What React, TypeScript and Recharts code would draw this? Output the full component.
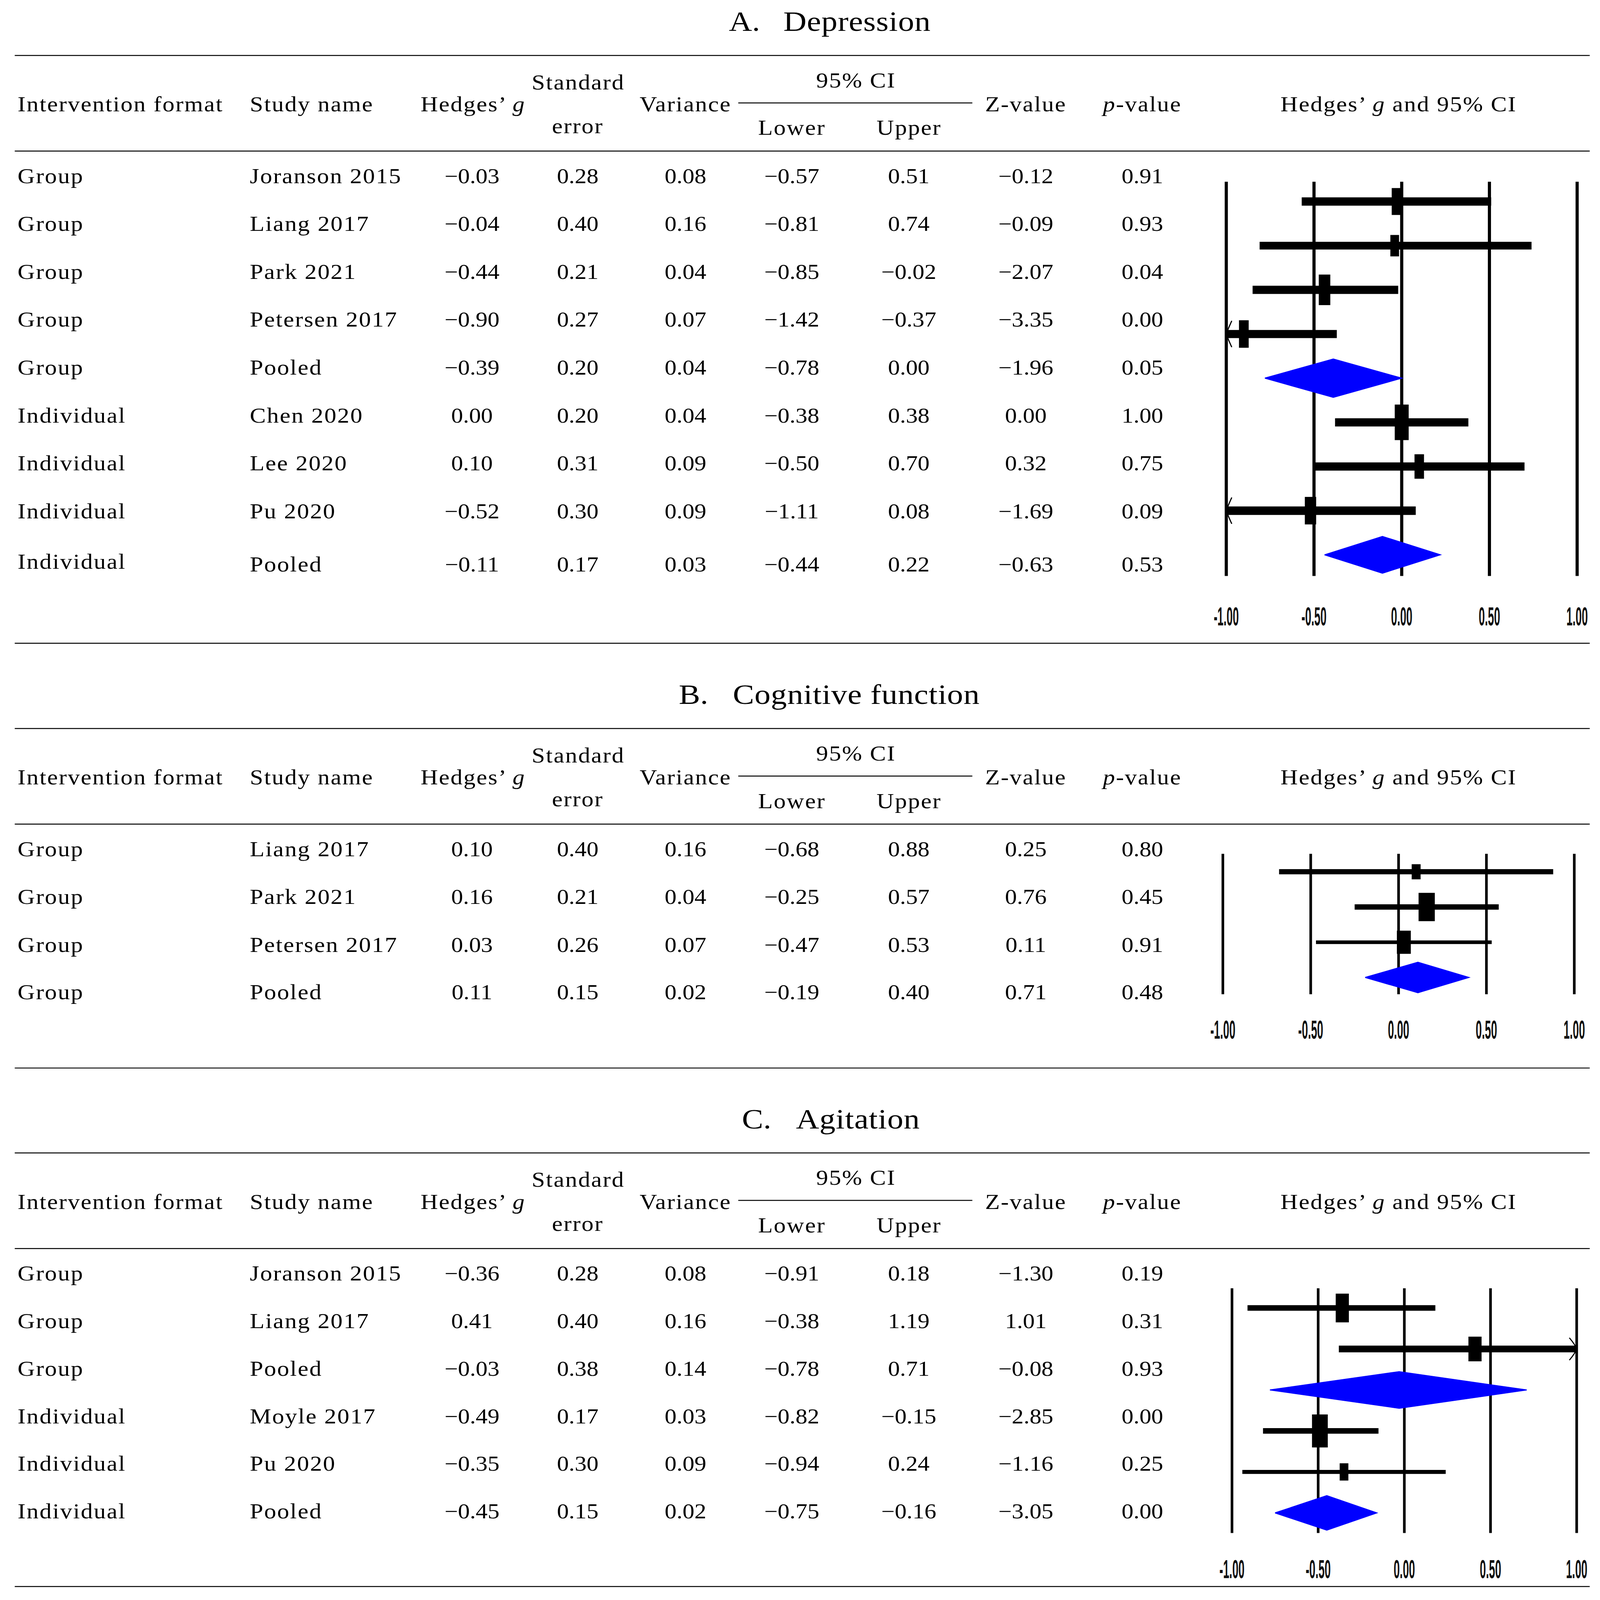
import React from 'react';
import {
  ScatterChart,
  Scatter,
  XAxis,
  YAxis,
  CartesianGrid,
  ReferenceLine,
  ReferenceDot,
} from 'recharts';

// layout is drawn on a 1400x1576 sheet, then stretched to fill the window
const SHEET_W = 1400;
const SHEET_H = 1576;
const viewW = typeof window !== 'undefined' && window.innerWidth ? window.innerWidth : 4443;
const viewH = typeof window !== 'undefined' && window.innerHeight ? window.innerHeight : 5001;
const SX = viewW / SHEET_W;
const SY = viewH / SHEET_H;

// A. Depression
const formatA = ['Group', 'Group', 'Group', 'Group', 'Group', 'Individual', 'Individual', 'Individual', 'Individual'];
const studyA = ['Joranson 2015', 'Liang 2017', 'Park 2021', 'Petersen 2017', 'Pooled', 'Chen 2020', 'Lee 2020', 'Pu 2020', 'Pooled'];
const gA = [-0.03, -0.04, -0.44, -0.9, -0.39, 0.0, 0.1, -0.52, -0.11];
const seA = [0.28, 0.4, 0.21, 0.27, 0.2, 0.2, 0.31, 0.3, 0.17];
const varA = [0.08, 0.16, 0.04, 0.07, 0.04, 0.04, 0.09, 0.09, 0.03];
const lowerA = [-0.57, -0.81, -0.85, -1.42, -0.78, -0.38, -0.5, -1.11, -0.44];
const upperA = [0.51, 0.74, -0.02, -0.37, 0.0, 0.38, 0.7, 0.08, 0.22];
const zA = [-0.12, -0.09, -2.07, -3.35, -1.96, 0.0, 0.32, -1.69, -0.63];
const pA = [0.91, 0.93, 0.04, 0.0, 0.05, 1.0, 0.75, 0.09, 0.53];

// B. Cognitive function
const formatB = ['Group', 'Group', 'Group', 'Group'];
const studyB = ['Liang 2017', 'Park 2021', 'Petersen 2017', 'Pooled'];
const gB = [0.1, 0.16, 0.03, 0.11];
const seB = [0.4, 0.21, 0.26, 0.15];
const varB = [0.16, 0.04, 0.07, 0.02];
const lowerB = [-0.68, -0.25, -0.47, -0.19];
const upperB = [0.88, 0.57, 0.53, 0.4];
const zB = [0.25, 0.76, 0.11, 0.71];
const pB = [0.8, 0.45, 0.91, 0.48];

// C. Agitation
const formatC = ['Group', 'Group', 'Group', 'Individual', 'Individual', 'Individual'];
const studyC = ['Joranson 2015', 'Liang 2017', 'Pooled', 'Moyle 2017', 'Pu 2020', 'Pooled'];
const gC = [-0.36, 0.41, -0.03, -0.49, -0.35, -0.45];
const seC = [0.28, 0.4, 0.38, 0.17, 0.3, 0.15];
const varC = [0.08, 0.16, 0.14, 0.03, 0.09, 0.02];
const lowerC = [-0.91, -0.38, -0.78, -0.82, -0.94, -0.75];
const upperC = [0.18, 1.19, 0.71, -0.15, 0.24, -0.16];
const zC = [-1.3, 1.01, -0.08, -2.85, -1.16, -3.05];
const pC = [0.19, 0.31, 0.93, 0.0, 0.25, 0.0];

const axisTicks = [-1, -0.5, 0, 0.5, 1];

// styles / placement (kept apart from the data)
const NUM_X = [413, 505.5, 599.8, 692.8, 795.2, 897.6, 999.6];
const SERIF = '"Liberation Serif", "Times New Roman", serif';
const SANS = '"Liberation Sans", Arial, sans-serif';

const styleA = {
  top: 0,
  letter: 'A.',
  title: 'Depression',
  letterX: 637.8,
  titleX: 685.5,
  rowBase: [180.3, 227.5, 274.6, 321.8, 369.0, 416.2, 463.3, 510.5, 563.0],
  formatShift: [0, 0, 0, 0, 0, 0, 0, 0, -2.8],
  bottomRule: 633.6,
  plot: { left: 1073, right: 1380, top: 178.7, bottom: 567, domain: [0.552, 9.478], labelGap: 39.7, grid: 2.75 },
  box: [[8.3, 26.5], [7.6, 21.1], [10.1, 30.1], [8.5, 27.1], [0, 0], [12.2, 35], [8.3, 24.1], [9.9, 27.1], [0, 0]],
  ci: [8.2, 7.6, 8.1, 8, 0, 8.1, 8.1, 8.4, 0],
  diamond: [0, 0, 0, 0, 0.434, 0, 0, 0, 0.416],
};

const styleB = {
  top: 663,
  letter: 'B.',
  title: 'Cognitive function',
  letterX: 594,
  titleX: 641.2,
  rowBase: [180.3, 227.4, 274.5, 321.3],
  formatShift: [0, 0, 0, 0],
  bottomRule: 389,
  plot: { left: 1070.2, right: 1377.7, top: 178, bottom: 316.3, domain: [0.49, 4.475], labelGap: 34.7, grid: 2.3 },
  box: [[7.8, 14.9], [14.2, 27.9], [12.2, 22.8], [0, 0]],
  ci: [5.1, 5.3, 3.5, 0],
  diamond: [0, 0, 0, 0.432],
};

const styleC = {
  top: 1081,
  letter: 'C.',
  title: 'Agitation',
  letterX: 649.2,
  titleX: 696.5,
  rowBase: [180.3, 227.3, 274.1, 320.9, 367.7, 414.5],
  formatShift: [0, 0, 0, 0, 0, 0],
  bottomRule: 481.7,
  plot: { left: 1077.7, right: 1379.3, top: 187.6, bottom: 428.6, domain: [0.52, 6.49], labelGap: 35.4, grid: 2.3 },
  box: [[11.5, 28.3], [11.5, 24.3], [0, 0], [13.8, 32.5], [7.6, 17], [0, 0]],
  ci: [5.5, 6.6, 0, 5.5, 4, 0],
  diamond: [0, 0, 0.446, 0, 0, 0.421],
};

const panels = [
  { style: styleA, format: formatA, study: studyA, cols: [gA, seA, varA, lowerA, upperA, zA, pA] },
  { style: styleB, format: formatB, study: studyB, cols: [gB, seB, varB, lowerB, upperB, zB, pB] },
  { style: styleC, format: formatC, study: studyC, cols: [gC, seC, varC, lowerC, upperC, zC, pC] },
];

const fmtNum = (v: number) => v.toFixed(2).replace('-', '\u2212');

function ForestTick(props: any) {
  const { x, y, payload, gap } = props;
  return (
    <g transform={`translate(${x},${y + gap}) scale(0.37,1)`}>
      <text
        x={0}
        y={0}
        textAnchor="middle"
        dominantBaseline="central"
        fontFamily={SANS}
        fontWeight={700}
        fontSize={26}
        fill="#111"
      >
        {Number(payload.value).toFixed(2)}
      </text>
    </g>
  );
}

function Arrow(props: any) {
  const { cx, cy, dir } = props;
  const w = dir < 0 ? 4.8 : 6.4;
  const h = dir < 0 ? 13 : 11;
  const bx = cx - dir * w;
  return (
    <path
      d={`M${bx},${cy - h} Q${cx - dir * 1.2},${cy - 4} ${cx},${cy} Q${cx - dir * 1.2},${cy + 4} ${bx},${cy + h}`}
      fill="none"
      stroke="#000"
      strokeWidth={1}
    />
  );
}

function ForestPlot({ panel }: { panel: any }) {
  const { style, study, cols } = panel;
  const g = cols[0];
  const lower = cols[3];
  const upper = cols[4];
  const p = style.plot;
  const padX = 40;
  const padTop = 12;
  const axisH = 70;
  const plotW = p.right - p.left;
  const plotH = p.bottom - p.top;

  const rows = g.map((v: number, i: number) => ({ x: v, y: i + 1, i }));
  const studies = rows.filter((r: any) => study[r.i] !== 'Pooled');
  const pooled = rows.filter((r: any) => study[r.i] === 'Pooled');

  return (
    <div style={{ position: 'absolute', left: p.left - padX, top: style.top + p.top - padTop }}>
      <ScatterChart
        width={plotW + 2 * padX}
        height={plotH + padTop + axisH}
        margin={{ top: padTop, right: padX, bottom: 0, left: padX }}
      >
        <CartesianGrid horizontal={false} stroke="#000" strokeWidth={p.grid} />
        <XAxis
          type="number"
          dataKey="x"
          domain={[-1, 1]}
          ticks={axisTicks}
          interval={0}
          allowDataOverflow
          axisLine={false}
          tickLine={false}
          tickSize={0}
          tickMargin={0}
          height={axisH}
          tick={(t: any) => <ForestTick {...t} gap={p.labelGap} />}
        />
        <YAxis type="number" dataKey="y" domain={p.domain} reversed hide allowDataOverflow />
        {studies.map((r: any) => (
          <ReferenceLine
            key={`ci-${r.i}`}
            segment={[
              { x: lower[r.i], y: r.y },
              { x: upper[r.i], y: r.y },
            ]}
            stroke="#000"
            strokeWidth={style.ci[r.i]}
            ifOverflow="hidden"
          />
        ))}
        {studies
          .filter((r: any) => lower[r.i] < -1)
          .map((r: any) => (
            <ReferenceDot
              key={`la-${r.i}`}
              x={-1}
              y={r.y}
              r={0}
              ifOverflow="visible"
              shape={(s: any) => <Arrow {...s} dir={-1} />}
            />
          ))}
        {studies
          .filter((r: any) => upper[r.i] > 1)
          .map((r: any) => (
            <ReferenceDot
              key={`ra-${r.i}`}
              x={1}
              y={r.y}
              r={0}
              ifOverflow="visible"
              shape={(s: any) => <Arrow {...s} dir={1} />}
            />
          ))}
        <Scatter
          data={studies}
          dataKey="y"
          fill="#000"
          isAnimationActive={false}
          shape={(s: any) => {
            const [w, h] = style.box[s.payload.i];
            return <rect x={s.cx - w / 2} y={s.cy - h / 2} width={w} height={h} fill="#000" />;
          }}
        />
        {pooled.map((r: any) => {
          const h = style.diamond[r.i];
          const pts = [
            { x: lower[r.i], y: r.y },
            { x: g[r.i], y: r.y - h },
            { x: upper[r.i], y: r.y },
            { x: g[r.i], y: r.y + h },
            { x: lower[r.i], y: r.y },
          ];
          return (
            <Scatter
              key={`pool-${r.i}`}
              data={pts}
              dataKey="y"
              fill="#0000ff"
              isAnimationActive={false}
              line={{ fill: '#0000ff', stroke: '#0000ff', strokeWidth: 1 }}
              shape={() => <g />}
            />
          );
        })}
      </ScatterChart>
    </div>
  );
}

function TableText({ panel }: { panel: any }) {
  const { style, format, study, cols } = panel;
  const t = style.top;
  const label = { fontFamily: SERIF, fontSize: 21, letterSpacing: 0.85, fill: '#000' };
  const num = { fontFamily: SERIF, fontSize: 20.8, fill: '#000' };
  return (
    <g>
      <text x={style.letterX} y={t + 30.5} fontFamily={SERIF} fontSize={28} fill="#000">
        {style.letter}
      </text>
      <text x={style.titleX} y={t + 30.5} fontFamily={SERIF} fontSize={28} letterSpacing={0.3} fill="#000">
        {style.title}
      </text>

      <line x1={12.9} x2={1391} y1={t + 54.6} y2={t + 54.6} stroke="#000" strokeWidth={0.95} />
      <line x1={12.9} x2={1391} y1={t + 148.8} y2={t + 148.8} stroke="#000" strokeWidth={0.95} />
      <line x1={12.9} x2={1391} y1={t + style.bottomRule} y2={t + style.bottomRule} stroke="#000" strokeWidth={0.95} />
      <line x1={646} x2={850.8} y1={t + 101.4} y2={t + 101.4} stroke="#000" strokeWidth={0.95} />

      <text x={15.4} y={t + 109.7} {...label}>Intervention format</text>
      <text x={218.6} y={t + 109.7} {...label}>Study name</text>
      <text x={368} y={t + 109.7} {...label}>
        Hedges’ <tspan fontStyle="italic">g</tspan>
      </text>
      <text x={505.9} y={t + 88} textAnchor="middle" {...label}>Standard</text>
      <text x={505.5} y={t + 131.3} textAnchor="middle" {...label}>error</text>
      <text x={599.8} y={t + 109.7} textAnchor="middle" {...label}>Variance</text>
      <text x={749} y={t + 86} textAnchor="middle" {...label}>95% CI</text>
      <text x={692.9} y={t + 132.9} textAnchor="middle" {...label}>Lower</text>
      <text x={795.4} y={t + 132.9} textAnchor="middle" {...label}>Upper</text>
      <text x={897.6} y={t + 109.7} textAnchor="middle" {...label}>Z-value</text>
      <text x={999.5} y={t + 109.7} textAnchor="middle" {...label}>
        <tspan fontStyle="italic">p</tspan>-value
      </text>
      <text x={1223.8} y={t + 109.7} textAnchor="middle" {...label}>
        Hedges’ <tspan fontStyle="italic">g</tspan> and 95% CI
      </text>

      {format.map((f: string, i: number) => (
        <g key={`row-${i}`}>
          <text x={15.4} y={t + style.rowBase[i] + style.formatShift[i]} {...label}>{f}</text>
          <text x={218.6} y={t + style.rowBase[i]} {...label}>{study[i]}</text>
          {cols.map((c: number[], j: number) => (
            <text key={`c-${j}`} x={NUM_X[j]} y={t + style.rowBase[i]} textAnchor="middle" {...num}>
              {fmtNum(c[i])}
            </text>
          ))}
        </g>
      ))}
    </g>
  );
}

export default function App() {
  return (
    <div
      style={{
        position: 'fixed',
        left: 0,
        top: 0,
        width: SHEET_W,
        height: SHEET_H,
        background: '#fff',
        transform: `scale(${SX}, ${SY})`,
        transformOrigin: '0 0',
      }}
    >
      <svg width={SHEET_W} height={SHEET_H} style={{ position: 'absolute', left: 0, top: 0 }}>
        {panels.map((pn, k) => (
          <TableText key={`t-${k}`} panel={pn} />
        ))}
      </svg>
      {panels.map((pn, k) => (
        <ForestPlot key={`f-${k}`} panel={pn} />
      ))}
    </div>
  );
}
